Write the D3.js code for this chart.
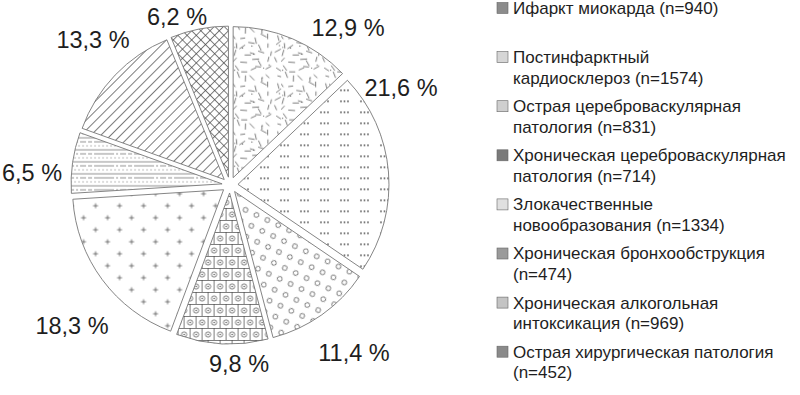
<!DOCTYPE html>
<html>
<head>
<meta charset="utf-8">
<script src="https://cdn.jsdelivr.net/npm/d3@7"></script>
<style>
  body { margin: 0; background: #fff; }
  text { font-family: "Liberation Sans", Arial, sans-serif; fill: #1e1e1e; }
  .pct { font-size: 23.5px; }
  .leg { font-size: 17px; }
</style>
</head>
<body>
<div id="chart"></div>
<script>
// data
var categories = [
  "Ифаркт миокарда (n=940)",
  "Постинфарктный|кардиосклероз (n=1574)",
  "Острая цереброваскулярная|патология (n=831)",
  "Хроническая цереброваскулярная|патология (n=714)",
  "Злокачественные|новообразования (n=1334)",
  "Хроническая бронхообструкция|(n=474)",
  "Хроническая алкогольная|интоксикация (n=969)",
  "Острая хирургическая патология|(n=452)"
];
var percents = [12.9, 21.6, 11.4, 9.8, 18.3, 6.5, 13.3, 6.2];
var patternIds = ["pDash", "pDots", "pRings", "pBrick", "pPlus", "pHoriz", "pDiag", "pCross"];
var legendColors = ["#8c8c8c", "#d6d6d6", "#cfcfcf", "#7a7a7a", "#e0e0e0", "#9a9a9a", "#c4c4c4", "#8a8a8a"];

// label positions (centre of each text)
var labelPos = [[348, 28], [401, 88], [354, 353], [239, 364], [72, 326], [32, 173], [93, 40], [177, 17]];

var w = 800, h = 395,
    cx = 230, cy = 185,
    radius = 151,
    explode = 8;

var svg = d3.select("#chart")
    .append("svg")
    .attr("width", w)
    .attr("height", h);

var defs = svg.append("defs");
var ink = "#444";

// --- fill patterns ---
// scattered dashes (jittered grid so they spread evenly)
var pd = defs.append("pattern").attr("id", "pDash")
    .attr("patternUnits", "userSpaceOnUse").attr("width", 48).attr("height", 48);
var seed = 11;
function rnd() { seed = (seed * 16807) % 2147483647; return (seed - 1) / 2147483646; }
for (var gx = 0; gx < 6; gx++) {
  for (var gy = 0; gy < 6; gy++) {
    var x = gx * 8 + 1 + rnd() * 6, y = gy * 8 + 1 + rnd() * 6,
        a = rnd() * Math.PI, l = 4 + rnd() * 3;
    pd.append("line")
      .attr("x1", x - l / 2 * Math.cos(a)).attr("y1", y - l / 2 * Math.sin(a))
      .attr("x2", x + l / 2 * Math.cos(a)).attr("y2", y + l / 2 * Math.sin(a))
      .attr("stroke", ink).attr("stroke-width", 0.7);
    if (rnd() < 0.35) {
      pd.append("circle").attr("cx", gx * 8 + rnd() * 8).attr("cy", gy * 8 + rnd() * 8)
        .attr("r", 0.55).attr("fill", ink);
    }
  }
}

// triple dots
var pt = defs.append("pattern").attr("id", "pDots")
    .attr("patternUnits", "userSpaceOnUse").attr("width", 20).attr("height", 11);
[3, 6.5, 10].forEach(function(x) {
  pt.append("rect").attr("x", x - 0.8).attr("y", 4.2).attr("width", 1.6).attr("height", 1.6).attr("fill", "#555");
});

// rings
var pr = defs.append("pattern").attr("id", "pRings")
    .attr("patternUnits", "userSpaceOnUse").attr("width", 17).attr("height", 17)
    .attr("patternTransform", "rotate(-20)");
[[4, 4], [12.5, 12.5]].forEach(function(p) {
  pr.append("circle").attr("cx", p[0]).attr("cy", p[1]).attr("r", 2.4)
    .attr("fill", "none").attr("stroke", ink).attr("stroke-width", 0.7);
});

// bricks with dotted rings
var pb = defs.append("pattern").attr("id", "pBrick")
    .attr("patternUnits", "userSpaceOnUse").attr("width", 24).attr("height", 24)
    .attr("x", 2).attr("y", 3);
pb.append("rect").attr("width", 24).attr("height", 24).attr("fill", "#fff");
pb.append("path")
    .attr("d", "M0,0.5H24M0,12.5H24M0.5,0V12M12.5,0V12M6.5,12V24M18.5,12V24")
    .attr("stroke", ink).attr("stroke-width", 0.7).attr("fill", "none");
[[6.5, 6.5], [18.5, 6.5], [0.5, 18.5], [12.5, 18.5], [24.5, 18.5]].forEach(function(p) {
  pb.append("circle").attr("cx", p[0]).attr("cy", p[1]).attr("r", 2.6)
    .attr("fill", "#fff").attr("stroke", ink).attr("stroke-width", 0.7);
  pb.append("circle").attr("cx", p[0]).attr("cy", p[1]).attr("r", 0.7).attr("fill", ink);
});

// plus signs
var pp = defs.append("pattern").attr("id", "pPlus")
    .attr("patternUnits", "userSpaceOnUse").attr("width", 24).attr("height", 24);
[[4, 4], [16, 16]].forEach(function(p) {
  pp.append("path")
    .attr("d", "M" + (p[0] - 2.5) + "," + p[1] + "h5M" + p[0] + "," + (p[1] - 2.5) + "v5")
    .attr("stroke", ink).attr("stroke-width", 0.7);
});

// horizontal lines, mixed dashes
var ph = defs.append("pattern").attr("id", "pHoriz")
    .attr("patternUnits", "userSpaceOnUse").attr("width", 40).attr("height", 12);
ph.append("line").attr("x1", 0).attr("x2", 40).attr("y1", 2).attr("y2", 2)
    .attr("stroke", ink).attr("stroke-width", 0.6);
ph.append("line").attr("x1", 0).attr("x2", 40).attr("y1", 6).attr("y2", 6)
    .attr("stroke", ink).attr("stroke-width", 0.6).attr("stroke-dasharray", "12,2,2,2,6,2,4,2");
ph.append("line").attr("x1", 0).attr("x2", 40).attr("y1", 10).attr("y2", 10)
    .attr("stroke", "#888").attr("stroke-width", 0.6).attr("stroke-dasharray", "2,2");

// diagonal lines
var pg = defs.append("pattern").attr("id", "pDiag")
    .attr("patternUnits", "userSpaceOnUse").attr("width", 7).attr("height", 7)
    .attr("patternTransform", "rotate(45)");
pg.append("line").attr("x1", 0.5).attr("x2", 0.5).attr("y1", 0).attr("y2", 7)
    .attr("stroke", ink).attr("stroke-width", 0.7);

// crosshatch
var pc = defs.append("pattern").attr("id", "pCross")
    .attr("patternUnits", "userSpaceOnUse").attr("width", 6.5).attr("height", 6.5)
    .attr("patternTransform", "rotate(45)");
pc.append("path").attr("d", "M0.5,0V6.5M0,0.5H6.5")
    .attr("stroke", ink).attr("stroke-width", 0.7);

// --- pie ---
var pie = d3.pie().sort(null).value(function(d) { return d; });
var arc = d3.arc().innerRadius(0).outerRadius(radius);
var arcs = pie(percents);

var slices = svg.append("g")
    .attr("transform", "translate(" + cx + "," + cy + ")")
    .selectAll("g.slice")
    .data(arcs)
    .enter()
    .append("g")
    .attr("class", "slice")
    .attr("transform", function(d) {
      var a = (d.startAngle + d.endAngle) / 2;
      return "translate(" + (explode * Math.sin(a)) + "," + (-explode * Math.cos(a)) + ")";
    });

slices.append("path")
    .attr("d", arc)
    .attr("fill", "#fff");
slices.append("path")
    .attr("d", arc)
    .attr("fill", function(d, i) { return "url(#" + patternIds[i] + ")"; })
    .attr("stroke", "#777")
    .attr("stroke-width", 0.9)
    .attr("stroke-linejoin", "miter");

// percent labels
svg.selectAll("text.pct")
    .data(percents)
    .enter()
    .append("text")
    .attr("class", "pct")
    .attr("x", function(d, i) { return labelPos[i][0]; })
    .attr("y", function(d, i) { return labelPos[i][1]; })
    .attr("dy", "0.35em")
    .attr("text-anchor", "middle")
    .text(function(d) { return String(d).replace(".", ",") + " %"; });

// --- legend ---
var legend = svg.append("g").attr("transform", "translate(497,8)");
var items = legend.selectAll("g.item")
    .data(categories)
    .enter()
    .append("g")
    .attr("class", "item")
    .attr("transform", function(d, i) { return "translate(0," + (i * 49.1) + ")"; });

items.append("rect")
    .attr("x", 0).attr("y", -5.5)
    .attr("width", 11).attr("height", 11)
    .attr("fill", function(d, i) { return legendColors[i]; })
    .attr("stroke", "#666")
    .attr("stroke-width", 0.6);

items.each(function(d) {
  var t = d3.select(this);
  d.split("|").forEach(function(line, j) {
    t.append("text")
      .attr("class", "leg")
      .attr("x", 16)
      .attr("y", j * 20.5)
      .attr("dy", "0.35em")
      .text(line);
  });
});
</script>
</body>
</html>
